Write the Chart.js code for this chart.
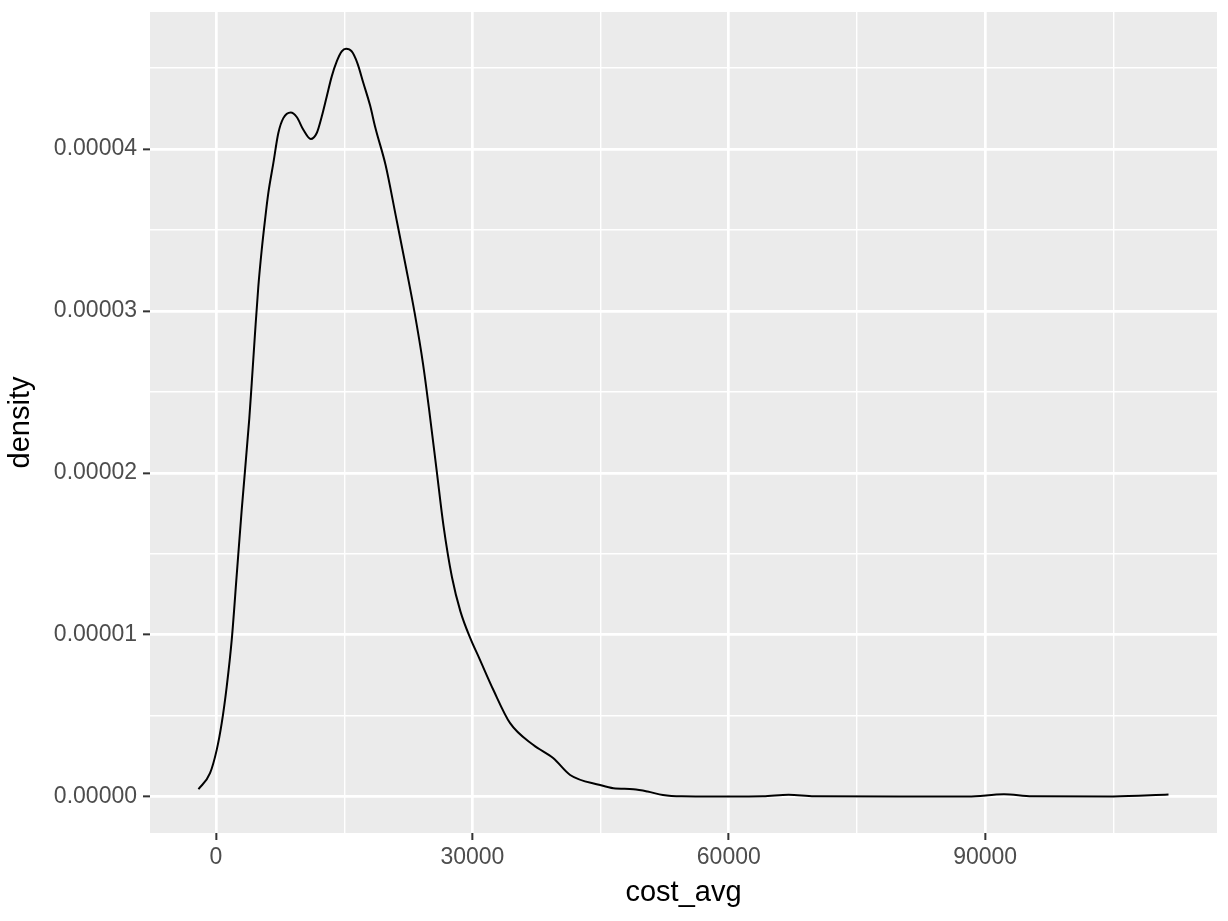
<!DOCTYPE html>
<html>
<head>
<meta charset="utf-8">
<script src="https://cdn.jsdelivr.net/npm/chart.js@4.4.1/dist/chart.umd.min.js"></script>
<style>
  html, body { margin: 0; padding: 0; background: #ffffff; }
  #wrap { width: 1228px; height: 921px; }
</style>
</head>
<body>
<div id="wrap"><canvas id="c" width="1228" height="921"></canvas></div>
<script>
// ---- data (kernel density of cost_avg) ----
const costAvg = [
  -2050, -702, 82, 667, 1252, 1838, 2423, 3008, 3898, 4179, 4565, 4951,
  5349, 5735, 6122, 6707, 7292, 7877, 8744, 9446, 10219, 11085, 11787,
  12372, 12958, 13543, 14128, 14713, 15216, 15883, 16539, 17241, 18025,
  18653, 19848, 21042, 22237, 23232, 24227, 25024, 25820, 26616, 27611,
  28607, 29801, 30796, 32458, 34413, 37140, 39481, 41436, 44947, 46504,
  48845, 50500, 52300, 54500, 60000, 64000, 67000, 70000, 80000, 88000,
  92200, 95500, 105000, 111455
];
const density = [
  4.6e-7, 1.45e-6, 2.89e-6, 4.54e-6, 6.8e-6, 9.68e-6, 1.37e-5, 1.773e-5,
  2.338e-5, 2.554e-5, 2.863e-5, 3.151e-5,
  3.378e-5, 3.563e-5, 3.729e-5, 3.913e-5, 4.099e-5, 4.191e-5, 4.226e-5,
  4.198e-5, 4.119e-5, 4.062e-5, 4.099e-5,
  4.201e-5, 4.325e-5, 4.449e-5, 4.541e-5, 4.603e-5, 4.62e-5, 4.603e-5,
  4.531e-5, 4.408e-5, 4.27e-5,
  4.13e-5, 3.90e-5, 3.586e-5, 3.267e-5, 2.991e-5, 2.672e-5, 2.354e-5,
  2.014e-5, 1.674e-5, 1.355e-5,
  1.143e-5, 9.73e-6, 8.56e-6, 6.59e-6, 4.54e-6, 3.19e-6, 2.37e-6, 1.34e-6,
  7.2e-7, 5.2e-7,
  4.6e-7, 3.2e-7, 1e-7, 2e-8, 5e-9, 2e-8, 1.2e-7, 2e-8, 5e-9, 1e-8,
  1.5e-7, 2e-8, 1e-8, 1.3e-7
];
const xMajorTicks = [0, 30000, 60000, 90000];
const xMinorTicks = [15000, 45000, 75000, 105000];
const yMajorTicks = [0, 0.00001, 0.00002, 0.00003, 0.00004];
const yMinorTicks = [0.000005, 0.000015, 0.000025, 0.000035, 0.000045];
const xTitle = 'cost_avg';
const yTitle = 'density';

const xRange = [-7725, 117130];
const yRange = [-0.000002243, 0.000048465];

const points = costAvg.map((x, i) => ({ x: x, y: density[i] }));

const isMajor = (list, v) => list.some(t => Math.abs(t - v) < 1e-12);

const panelBg = {
  id: 'panelBg',
  beforeDraw(chart) {
    const { ctx, chartArea: a } = chart;
    ctx.save();
    ctx.fillStyle = '#EBEBEB';
    ctx.fillRect(a.left, a.top, a.right - a.left, a.bottom - a.top);
    ctx.restore();
  }
};

const FONT = "'Liberation Sans', Arial, Helvetica, sans-serif";

new Chart(document.getElementById('c'), {
  type: 'scatter',
  data: {
    datasets: [{
      data: points,
      showLine: true,
      borderColor: '#000000',
      borderWidth: 2,
      pointRadius: 0,
      fill: false,
      cubicInterpolationMode: 'monotone'
    }]
  },
  options: {
    responsive: false,
    animation: false,
    events: [],
    layout: { padding: { top: 12, right: 11, left: 0, bottom: 0 } },
    plugins: { legend: { display: false }, tooltip: { enabled: false } },
    scales: {
      x: {
        type: 'linear',
        min: xRange[0],
        max: xRange[1],
        afterBuildTicks(s) {
          s.ticks = xMajorTicks.concat(xMinorTicks).sort((a, b) => a - b).map(v => ({ value: v }));
        },
        afterFit(s) { s.height = 88; s.paddingLeft = 0; s.paddingRight = 0; },
        border: { display: false },
        grid: {
          color: '#FFFFFF',
          lineWidth: c => isMajor(xMajorTicks, c.tick.value) ? 2.7 : 1.4,
          drawTicks: true,
          tickLength: 7,
          tickWidth: 2,
          tickColor: c => isMajor(xMajorTicks, c.tick.value) ? '#333333' : 'rgba(0,0,0,0)'
        },
        ticks: {
          autoSkip: false,
          maxRotation: 0,
          minRotation: 0,
          padding: 4,
          color: '#4D4D4D',
          font: { family: FONT, size: 23 },
          callback: v => isMajor(xMajorTicks, v) ? String(v) : ''
        },
        title: {
          display: true,
          text: xTitle,
          color: '#000000',
          font: { family: FONT, size: 29 },
          padding: { top: 0, bottom: 11 }
        }
      },
      y: {
        type: 'linear',
        min: yRange[0],
        max: yRange[1],
        afterBuildTicks(s) {
          s.ticks = yMajorTicks.concat(yMinorTicks).sort((a, b) => a - b).map(v => ({ value: v }));
        },
        afterFit(s) { s.width = 150; s.paddingTop = 0; s.paddingBottom = 0; },
        border: { display: false },
        grid: {
          color: '#FFFFFF',
          lineWidth: c => isMajor(yMajorTicks, c.tick.value) ? 2.7 : 1.4,
          drawTicks: true,
          tickLength: 7,
          tickWidth: 2,
          tickColor: c => isMajor(yMajorTicks, c.tick.value) ? '#333333' : 'rgba(0,0,0,0)'
        },
        ticks: {
          autoSkip: false,
          padding: 6,
          color: '#4D4D4D',
          font: { family: FONT, size: 23 },
          callback: v => isMajor(yMajorTicks, v) ? Number(v).toFixed(5) : ''
        },
        title: {
          display: true,
          text: yTitle,
          color: '#000000',
          font: { family: FONT, size: 29 },
          padding: { top: 4, bottom: 0 }
        }
      }
    }
  },
  plugins: [panelBg]
});
</script>
</body>
</html>
